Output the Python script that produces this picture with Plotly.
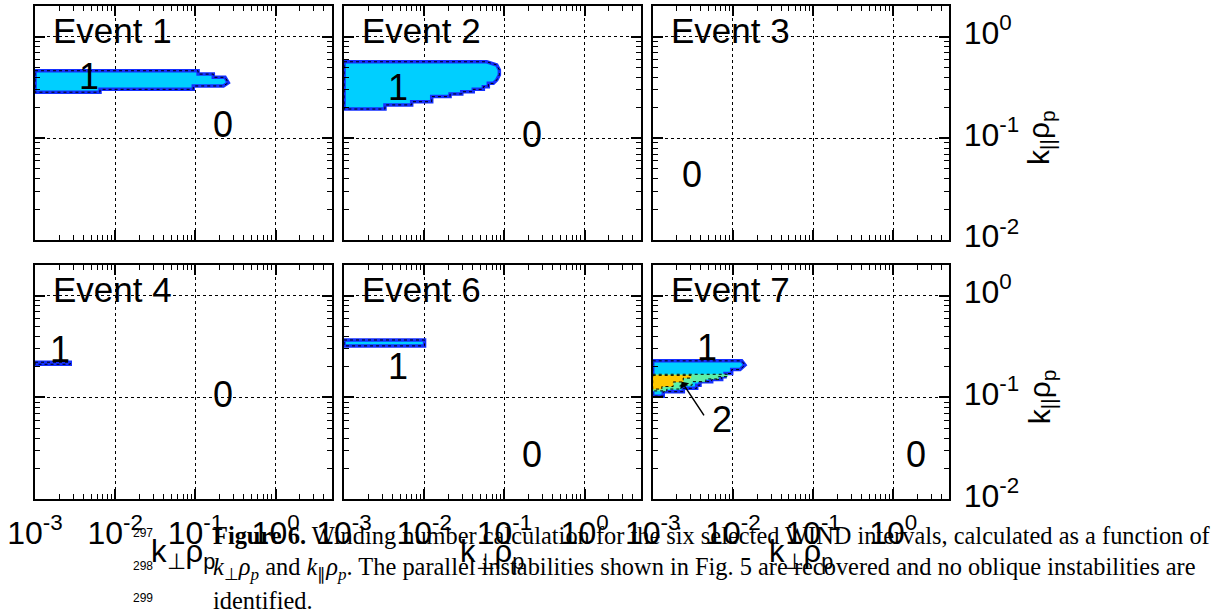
import math
import plotly.graph_objects as go

W, H = 1216, 609

# ---------------- data ----------------
event_names = ["Event 1", "Event 2", "Event 3", "Event 4", "Event 6", "Event 7"]

kperp_range = [1e-3, 5.0]
kpar_range = [1e-2, 2.0]
kperp_tickvals = [1e-3, 1e-2, 1e-1, 1e0]
kperp_ticktext = ["10<sup>-3</sup>", "10<sup>-2</sup>", "10<sup>-1</sup>", "10<sup>0</sup>"]
kpar_tickvals = [1e-2, 1e-1, 1e0]
kpar_ticktext = ["10<sup>-2</sup>", "10<sup>-1</sup>", "10<sup>0</sup>"]
kperp_minor = [0.002, 0.003, 0.004, 0.005, 0.006, 0.007, 0.008, 0.009,
               0.02, 0.03, 0.04, 0.05, 0.06, 0.07, 0.08, 0.09,
               0.2, 0.3, 0.4, 0.5, 0.6, 0.7, 0.8, 0.9, 2, 3, 4, 5]
kpar_minor = [0.02, 0.03, 0.04, 0.05, 0.06, 0.07, 0.08, 0.09,
              0.2, 0.3, 0.4, 0.5, 0.6, 0.7, 0.8, 0.9, 2]

# unstable-region outlines (winding number = level)
ev1_kperp = [0.001, 0.108, 0.108, 0.167, 0.167, 0.234, 0.257, 0.223, 0.094, 0.094, 0.00646, 0.00646, 0.001]
ev1_kpar = [0.462, 0.462, 0.428, 0.428, 0.398, 0.398, 0.352, 0.327, 0.327, 0.303, 0.303, 0.284, 0.284]

ev2_kperp = [0.001, 0.0601, 0.0802, 0.0865, 0.0865, 0.0802, 0.0727, 0.063, 0.063, 0.0546, 0.0546,
             0.0409, 0.0409, 0.0294, 0.0294, 0.021, 0.021, 0.0124, 0.0124, 0.00698, 0.00698,
             0.00324, 0.00324, 0.001]
ev2_kpar = [0.566, 0.566, 0.526, 0.470, 0.420, 0.375, 0.347, 0.347, 0.322, 0.322, 0.303,
            0.303, 0.287, 0.287, 0.273, 0.273, 0.257, 0.257, 0.229, 0.229, 0.213,
            0.213, 0.194, 0.194]

ev4_kperp = [0.001, 0.00275, 0.00275, 0.001]
ev4_kpar = [0.222, 0.222, 0.212, 0.212]

ev6_kperp = [0.001, 0.0101, 0.0101, 0.001]
ev6_kpar = [0.367, 0.367, 0.321, 0.321]

ev7_kperp = [0.001, 0.01288, 0.01416, 0.01227, 0.00966, 0.00966, 0.00798, 0.00798, 0.00725, 0.00725,
             0.00544, 0.00544, 0.00389, 0.00389, 0.00354, 0.00354, 0.00241, 0.00241, 0.001355,
             0.001355, 0.001]
ev7_kpar = [0.229, 0.229, 0.208, 0.188, 0.188, 0.172, 0.172, 0.160, 0.160, 0.150,
            0.150, 0.143, 0.143, 0.132, 0.132, 0.123, 0.123, 0.114, 0.114,
            0.103, 0.103]
ev7_mid_kperp = [0.001, 0.0086, 0.0086, 0.0066, 0.0066, 0.0046, 0.0046, 0.0031, 0.0031,
                 0.0022, 0.0022, 0.0015, 0.0015, 0.001]
ev7_mid_kpar = [0.169, 0.169, 0.160, 0.160, 0.152, 0.152, 0.143, 0.143, 0.132,
                0.132, 0.121, 0.121, 0.116, 0.116]
ev7_in_kperp = [0.001, 0.0030, 0.0030, 0.0024, 0.0024, 0.0018, 0.0018, 0.0013, 0.0013, 0.001]
ev7_in_kpar = [0.165, 0.165, 0.155, 0.155, 0.142, 0.142, 0.128, 0.128, 0.121, 0.121]

regions = [
    (1, ev1_kperp, ev1_kpar, 1.0),
    (2, ev2_kperp, ev2_kpar, 1.0),
    (4, ev4_kperp, ev4_kpar, 1.0),
    (5, ev6_kperp, ev6_kpar, 1.0),
    (6, ev7_kperp, ev7_kpar, 1.0),
    (6, ev7_mid_kperp, ev7_mid_kpar, 1.5),
    (6, ev7_in_kperp, ev7_in_kpar, 2.0),
]

# winding-number labels: (panel, text, kperp, kpar)
winding_labels = [
    (1, "1", 0.00471, 0.401), (1, "0", 0.221, 0.137),
    (2, "1", 0.00465, 0.316), (2, "0", 0.221, 0.108),
    (3, "0", 0.00313, 0.0436),
    (4, "1", 0.00205, 0.2985), (4, "0", 0.218, 0.1067),
    (5, "1", 0.00471, 0.203), (5, "0", 0.221, 0.0274),
    (6, "1", 0.00469, 0.313), (6, "2", 0.00741, 0.0605), (6, "0", 1.90, 0.0274),
]
arrow7_head = (0.0023, 0.1426)
arrow7_tail = (0.00449, 0.0644)

caption_lines = [
    "<b>Figure 6.</b> Winding number calculation for the six selected WIND intervals, calculated as a function of",
    "<i>k</i><sub>⊥</sub><i>ρ<sub>p</sub></i> and <i>k</i><sub>∥</sub><i>ρ<sub>p</sub></i>. The parallel instabilities shown in Fig. 5 are recovered and no oblique instabilities are",
    "identified.",
]
line_numbers = ["297", "298", "299"]

# ---------------- styling ----------------
level_fill = {1.0: "#00CFFF", 1.5: "#5CF0A8", 2.0: "#FFC800"}
outline_blue = "#1530FF"
SANS = "Liberation Sans, Arial, sans-serif"
SERIF = "Liberation Serif, Times New Roman, serif"

col_px = [(35.0, 331.7), (344.0, 640.7), (652.7, 949.3)]
row_px = [(6.0, 240.0), (265.0, 499.3)]


def px_x(p):
    return p / W


def px_y(p):
    return 1 - p / H


def xid(i):
    return "x" if i == 1 else f"x{i}"


def yid(i):
    return "y" if i == 1 else f"y{i}"


fig = go.Figure()

for panel, kx, ky, level in regions:
    xs = list(kx) + [kx[0]]
    ys = list(ky) + [ky[0]]
    if level == 1.0:
        lc, lw = outline_blue, 3.5
    else:
        lc, lw = level_fill[level], 0.5
    fig.add_trace(go.Scatter(x=xs, y=ys, mode="lines", fill="toself",
                             fillcolor=level_fill[level], line=dict(color=lc, width=lw),
                             xaxis=xid(panel), yaxis=yid(panel), hoverinfo="skip", showlegend=False))
    fig.add_trace(go.Scatter(x=xs, y=ys, mode="lines",
                             line=dict(color="black", width=1, dash="dot"),
                             xaxis=xid(panel), yaxis=yid(panel), hoverinfo="skip", showlegend=False))

layout = dict(width=W, height=H, autosize=False,
              margin=dict(l=0, r=0, t=0, b=0, pad=0),
              paper_bgcolor="white", plot_bgcolor="white",
              showlegend=False)

annotations = []
for i in range(1, 7):
    r = 0 if i <= 3 else 1
    c = (i - 1) % 3
    x0, x1 = col_px[c]
    y0, y1 = row_px[r]
    common = dict(type="log", showline=True, linecolor="black", linewidth=2,
                  mirror="allticks", ticks="inside", ticklen=10, tickwidth=1.5,
                  tickcolor="black", showgrid=True, gridcolor="black", griddash="dot",
                  gridwidth=1, zeroline=False, automargin=False,
                  tickfont=dict(family=SANS, size=32, color="black"))
    xname = "xaxis" if i == 1 else f"xaxis{i}"
    yname = "yaxis" if i == 1 else f"yaxis{i}"
    layout[xname] = dict(common, domain=[px_x(x0), px_x(x1)], anchor=yid(i),
                         range=[math.log10(kperp_range[0]), math.log10(kperp_range[1])],
                         tickmode="array", tickvals=kperp_tickvals, ticktext=kperp_ticktext,
                         showticklabels=(r == 1), ticklabelstandoff=4,
                         minor=dict(ticks="inside", ticklen=5, tickwidth=1, tickcolor="black",
                                    tickvals=kperp_minor, showgrid=False))
    layout[yname] = dict(common, domain=[px_y(y1), px_y(y0)], anchor=xid(i),
                         range=[math.log10(kpar_range[0]), math.log10(kpar_range[1])],
                         tickmode="array", tickvals=kpar_tickvals, ticktext=kpar_ticktext,
                         showticklabels=(c == 2), side="right",
                         ticklabelstandoff=6, ticklabelshift=-4,
                         minor=dict(ticks="inside", ticklen=5, tickwidth=1, tickcolor="black",
                                    tickvals=kpar_minor, showgrid=False))
    # event label
    annotations.append(dict(text=event_names[i - 1], xref=f"{xid(i)} domain", yref=f"{yid(i)} domain",
                            x=0.055, y=0.896, xanchor="left", yanchor="middle", showarrow=False,
                            font=dict(family=SANS, size=35, color="black")))
    if r == 1:
        annotations.append(dict(text="k<sub>⊥</sub>ρ<sub>p</sub>", xref="paper", yref="paper",
                                x=px_x((x0 + x1) / 2), y=px_y(554), xanchor="center", yanchor="middle",
                                showarrow=False, font=dict(family=SANS, size=31, color="black")))
    if c == 2:
        annotations.append(dict(text="k<sub>||</sub>ρ<sub>p</sub>", xref="paper", yref="paper",
                                x=px_x(1041), y=px_y((y0 + y1) / 2 + 15), xanchor="center", yanchor="middle",
                                textangle=-90, showarrow=False,
                                font=dict(family=SANS, size=30, color="black")))

for panel, txt, kx, ky in winding_labels:
    annotations.append(dict(text=txt, xref=xid(panel), yref=yid(panel),
                            x=math.log10(kx), y=math.log10(ky), showarrow=False,
                            xanchor="center", yanchor="middle",
                            font=dict(family=SANS, size=36, color="black")))

annotations.append(dict(text="", xref=xid(6), yref=yid(6), axref=xid(6), ayref=yid(6),
                        x=math.log10(arrow7_head[0]), y=math.log10(arrow7_head[1]),
                        ax=math.log10(arrow7_tail[0]), ay=math.log10(arrow7_tail[1]),
                        showarrow=True, arrowhead=1, arrowsize=1.2, arrowwidth=1.5,
                        arrowcolor="black"))

caption_y = [535, 568, 600]
for k, (line, num) in enumerate(zip(caption_lines, line_numbers)):
    annotations.append(dict(text=line, xref="paper", yref="paper", x=px_x(211), y=px_y(caption_y[k]),
                            xanchor="left", yanchor="middle", showarrow=False,
                            font=dict(family=SERIF, size=24.4, color="black")))
    annotations.append(dict(text=num, xref="paper", yref="paper", x=px_x(131), y=px_y(caption_y[k] - 2),
                            xanchor="left", yanchor="middle", showarrow=False,
                            font=dict(family=SANS, size=12, color="black")))

layout["annotations"] = annotations
fig.update_layout(**layout)
fig.write_html("out.html", config={"displayModeBar": False},
               post_script="document.body.style.margin='0';document.body.style.overflow='hidden';")
